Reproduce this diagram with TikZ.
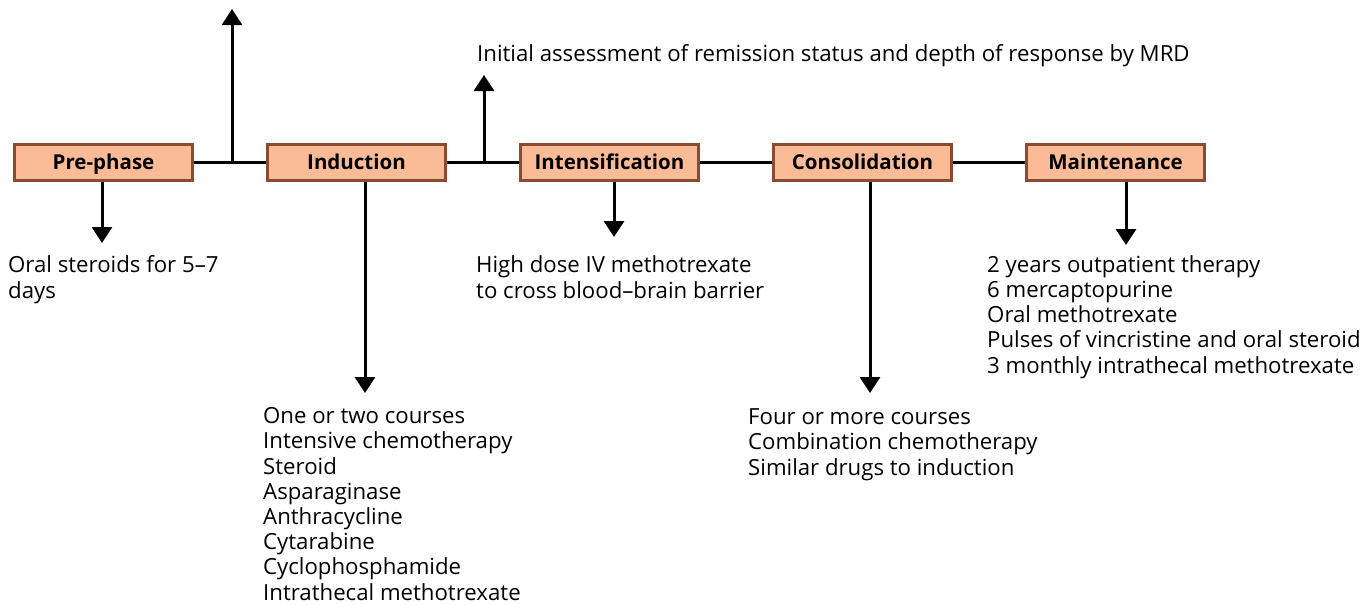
\documentclass[tikz,border=0pt]{standalone}
\usepackage{fontspec}
\setmainfont{Open Sans}
\usetikzlibrary{positioning,arrows.meta}

\definecolor{phasefill}{RGB}{251,187,150}
\definecolor{phaseline}{RGB}{139,75,48}

\tikzset{phase/.style = {rectangle, draw=phaseline, fill=phasefill, line width=3pt,
                         minimum width=178pt, minimum height=36pt, inner sep=0pt,
                         text height=16pt, text depth=3pt,
                         font=\fontsize{20.5}{24}\selectfont\bfseries},
         note/.style = {align=left, inner sep=0pt, anchor=base west,
                        font=\fontsize{22.2}{25.2}\selectfont},
         fleche/.style = {line width=3pt, -{Triangle[width=20pt,length=16pt]}},
         trait/.style = {line width=3pt}
        }

\begin{document}
\begin{tikzpicture}[x=1pt, y=-1pt, node distance=72pt]
  \useasboundingbox (0,0) rectangle (1369,605);
  \node[phase] (pre) at (103.5,162.5) {Pre-phase};
  \node[phase, right=of pre] (ind) {Induction};
  \node[phase, right=of ind] (intens) {Intensification};
  \node[phase, right=of intens] (cons) {Consolidation};
  \node[phase, right=of cons] (maint) {Maintenance};

  \draw[trait] (pre) -- (ind);
  \draw[trait] (ind) -- (intens);
  \draw[trait] (intens) -- (cons);
  \draw[trait] (cons) -- (maint);

  \coordinate (up1) at (232,9);
  \coordinate (up2) at (484,75);
  \draw[fleche] (up1 |- pre.east) -- (up1);
  \draw[fleche] (up2 |- ind.east) -- (up2);
  \node[note] (mrd) at (477,61) {Initial assessment of remission status and depth of response by MRD};

  \node[note] (prenote) at (8,298) {Oral steroids for 5--7\\days};
  \node[note] (indnote) at (263,600) {One or two courses\\Intensive chemotherapy\\Steroid\\Asparaginase\\Anthracycline\\Cytarabine\\Cyclophosphamide\\Intrathecal methotrexate};
  \node[note] (intnote) at (476,298) {High dose IV methotrexate\\to cross blood--brain barrier};
  \node[note] (consnote) at (748,475) {Four or more courses\\Combination chemotherapy\\Similar drugs to induction};
  \node[note] (maintnote) at (987,373) {2 years outpatient therapy\\6 mercaptopurine\\Oral methotrexate\\Pulses of vincristine and oral steroid\\3 monthly intrathecal methotrexate};

  \coordinate (d1) at (102,243);
  \coordinate (d2) at (365,393);
  \coordinate (d3) at (614,237);
  \coordinate (d4) at (870,393);
  \coordinate (d5) at (1126,245);
  \draw[fleche] (d1 |- pre.south) -- (d1);
  \draw[fleche] (d2 |- ind.south) -- (d2);
  \draw[fleche] (d3 |- intens.south) -- (d3);
  \draw[fleche] (d4 |- cons.south) -- (d4);
  \draw[fleche] (d5 |- maint.south) -- (d5);
\end{tikzpicture}
\end{document}
